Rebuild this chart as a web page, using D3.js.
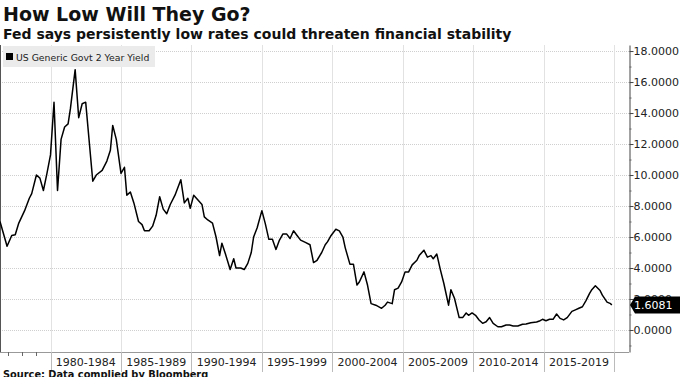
<!DOCTYPE html>
<html>
<head>
<meta charset="utf-8">
<script src="https://cdn.jsdelivr.net/npm/d3@7"></script>
<style>
  html, body { margin: 0; padding: 0; background: #fff; }
  svg { display: block; font-family: "DejaVu Sans", Verdana, sans-serif; }
</style>
</head>
<body>
<svg id="chart" width="680" height="377"></svg>
<script>
// ---------------- DATA ----------------
const title = "How Low Will They Go?";
const subtitle = "Fed says persistently low rates could threaten financial stability";
const source = "Source: Data complied by Bloomberg";
const seriesName = "US Generic Govt 2 Year Yield";

const dates = [
  "1976-06","1976-12","1977-04","1977-07","1977-10","1978-03","1978-07","1978-09",
  "1979-01","1979-04","1979-07","1979-10","1980-01","1980-04","1980-07","1980-10",
  "1981-01","1981-04","1981-06","1981-10","1982-01","1982-04","1982-07","1983-01",
  "1983-04","1983-09","1984-01","1984-04","1984-06","1984-09","1985-01","1985-04",
  "1985-06","1985-09","1985-12","1986-04","1986-07","1986-09","1987-01","1987-04",
  "1987-07","1987-10","1988-01","1988-04","1988-07","1988-11","1989-04","1989-07",
  "1989-10","1989-12","1990-03","1990-07","1990-10","1990-12","1991-03","1991-07",
  "1991-10","1992-01","1992-03","1992-06","1992-10","1993-01","1993-03","1993-07",
  "1993-10","1994-01","1994-04","1994-06","1994-09","1995-01","1995-04","1995-07",
  "1995-10","1996-01","1996-04","1996-07","1996-10","1997-01","1997-04","1997-07",
  "1997-10","1998-02","1998-06","1998-09","1998-12","1999-04","1999-07","1999-09",
  "1999-12","2000-04","2000-07","2000-10","2000-12","2001-04","2001-07","2001-10",
  "2001-12","2002-04","2002-07","2002-10","2003-02","2003-07","2003-10","2003-12",
  "2004-04","2004-06","2004-09","2004-12","2005-03","2005-06","2005-09","2006-01",
  "2006-03","2006-07","2006-10","2007-01","2007-03","2007-06","2007-09","2007-12",
  "2008-04","2008-06","2008-09","2009-01","2009-04","2009-07","2009-09","2009-12",
  "2010-03","2010-06","2010-09","2010-12","2011-03","2011-06","2011-10","2012-01",
  "2012-05","2012-08","2012-11","2013-03","2013-07","2013-10","2014-02","2014-07",
  "2014-10","2014-12","2015-03","2015-06","2015-09","2015-12","2016-03","2016-06",
  "2016-09","2017-01","2017-04","2017-07","2017-10","2018-01","2018-04","2018-06",
  "2018-09","2019-01","2019-03","2019-07","2019-10","2019-11"
];
const values = [
  7.0, 5.4, 6.1, 6.15, 6.9, 7.7, 8.5, 8.8,
  10.0, 9.8, 9.0, 10.1, 11.3, 14.7, 9.0, 12.3,
  13.1, 13.3, 14.3, 16.8, 13.7, 14.6, 14.7, 9.6,
  10.0, 10.3, 10.9, 11.6, 13.2, 12.3, 10.1, 10.5,
  8.7, 8.9, 8.2, 7.0, 6.8, 6.4, 6.4, 6.7,
  7.4, 8.6, 7.8, 7.5, 8.1, 8.7, 9.7, 8.2,
  8.5, 7.85, 8.7, 8.35, 8.1, 7.3, 7.1, 6.9,
  6.0, 4.8, 5.6, 4.9, 3.9, 4.6, 4.0, 4.0,
  3.9, 4.3, 5.0, 6.0, 6.6, 7.7, 6.85, 5.85,
  5.85, 5.2, 5.8, 6.2, 6.2, 5.9, 6.4, 6.1,
  5.8, 5.65, 5.5, 4.35, 4.5, 5.0, 5.5, 5.7,
  6.1, 6.5, 6.4, 6.0, 5.3, 4.25, 4.25, 2.9,
  3.1, 3.75, 2.9, 1.7, 1.6, 1.4, 1.6, 1.8,
  1.7, 2.6, 2.7, 3.1, 3.75, 3.75, 4.2, 4.5,
  4.8, 5.15, 4.7, 4.8, 4.6, 4.9, 3.9, 3.0,
  1.6, 2.6, 2.05, 0.8, 0.8, 1.1, 0.95, 1.1,
  0.95, 0.65, 0.43, 0.53, 0.8, 0.43, 0.21, 0.21,
  0.32, 0.32, 0.26, 0.26, 0.37, 0.39, 0.47, 0.52,
  0.6, 0.69, 0.6, 0.69, 0.69, 1.03, 0.75, 0.65,
  0.8, 1.2, 1.3, 1.4, 1.5, 1.9, 2.35, 2.6,
  2.85, 2.55, 2.25, 1.8, 1.7, 1.6081
];
const lastValue = 1.6081;
const yTicks = [0, 2, 4, 6, 8, 10, 12, 14, 16, 18];
const yMinorTicks = [-1, 1, 3, 5, 7, 9, 11, 13, 15, 17];
const periodStarts = [1980, 1985, 1990, 1995, 2000, 2005, 2010, 2015, 2020];
const periodLabels = ["1980-1984","1985-1989","1990-1994","1995-1999","2000-2004","2005-2009","2010-2014","2015-2019"];
const minorYears = [1977, 1978, 1979];

// ---------------- CHART ----------------
const svg = d3.select("#chart");
const parse = d3.timeParse("%Y-%m");
const data = dates.map((d, i) => ({ date: parse(d), value: values[i] }));

const plotLeft = 0, plotRight = 629, plotTop = 45, plotBottom = 352;
const x = d3.scaleTime()
  .domain([new Date(1976, 5, 1), new Date(2021, 0, 20)])
  .range([plotLeft, plotRight]);
const y = d3.scaleLinear().domain([-1.42, 18.39]).range([plotBottom, plotTop]);
const yr = v => new Date(v, 0, 1);

// titles
svg.append("text").attr("x", 3).attr("y", 21)
  .attr("font-size", 19).attr("font-weight", "bold").attr("fill", "#111").text(title);
svg.append("text").attr("x", 3).attr("y", 39)
  .attr("font-size", 14).attr("font-weight", "bold").attr("fill", "#111").text(subtitle);

// horizontal grid (dotted)
svg.append("g").selectAll("line").data(yTicks).join("line")
  .attr("x1", plotLeft).attr("x2", plotRight)
  .attr("y1", d => Math.round(y(d)) + 0.5).attr("y2", d => Math.round(y(d)) + 0.5)
  .attr("stroke", "#cfcfcf").attr("stroke-dasharray", "1,1");

// vertical grid
svg.append("g").selectAll("line").data(periodStarts).join("line")
  .attr("x1", d => Math.round(x(yr(d))) + 0.5).attr("x2", d => Math.round(x(yr(d))) + 0.5)
  .attr("y1", plotTop).attr("y2", plotBottom)
  .attr("stroke", "#e2e2e2");

// left border
svg.append("line").attr("x1", 0.5).attr("x2", 0.5).attr("y1", plotTop).attr("y2", plotBottom)
  .attr("stroke", "#555");

// bottom axis line
svg.append("line").attr("x1", plotLeft).attr("x2", plotRight)
  .attr("y1", plotBottom + 0.5).attr("y2", plotBottom + 0.5).attr("stroke", "#999");

// separators under bottom axis
svg.append("g").selectAll("line").data(periodStarts).join("line")
  .attr("x1", d => Math.round(x(yr(d))) + 0.5).attr("x2", d => Math.round(x(yr(d))) + 0.5)
  .attr("y1", plotBottom).attr("y2", 372)
  .attr("stroke", "#bbb");

// minor year ticks before first label
svg.append("g").selectAll("line").data(minorYears).join("line")
  .attr("x1", d => Math.round(x(yr(d))) + 0.5).attr("x2", d => Math.round(x(yr(d))) + 0.5)
  .attr("y1", plotBottom).attr("y2", plotBottom + 4)
  .attr("stroke", "#666");

// period labels
svg.append("g").selectAll("text").data(periodLabels).join("text")
  .attr("x", (d, i) => (x(yr(periodStarts[i])) + x(yr(periodStarts[i + 1]))) / 2)
  .attr("y", 366).attr("text-anchor", "middle")
  .attr("font-size", 11).attr("fill", "#222").text(d => d);

// right axis
const gy = svg.append("g").attr("transform", `translate(${plotRight + 0.5},0)`)
  .call(d3.axisRight(y).tickValues(yTicks).tickFormat(d3.format(".4f")).tickSize(4).tickSizeOuter(0));
gy.select(".domain").attr("stroke", "#444");
gy.selectAll(".tick line").attr("stroke", "#444");
gy.selectAll(".tick text").attr("font-size", 11).attr("fill", "#222")
  .attr("font-family", "DejaVu Sans, Verdana, sans-serif").attr("x", 4);
const gym = svg.append("g").attr("transform", `translate(${plotRight + 0.5},0)`)
  .call(d3.axisRight(y).tickValues(yMinorTicks).tickFormat("").tickSize(2).tickSizeOuter(0));
gym.select(".domain").remove();
gym.selectAll(".tick line").attr("stroke", "#666");

// series line
const line = d3.line().x(d => x(d.date)).y(d => y(d.value));
svg.append("path").datum(data)
  .attr("d", line).attr("fill", "none").attr("stroke", "#000")
  .attr("stroke-width", 1.5).attr("stroke-linejoin", "round");

// legend
svg.append("rect").attr("x", 3).attr("y", 46).attr("width", 152).attr("height", 21)
  .attr("fill", "#ebebeb");
svg.append("rect").attr("x", 6).attr("y", 53).attr("width", 7).attr("height", 7).attr("fill", "#000");
svg.append("text").attr("x", 16).attr("y", 60.5)
  .attr("font-size", 9.3).attr("fill", "#222").text(seriesName);

// last value tag
const ly = y(lastValue);
svg.append("path")
  .attr("d", `M${plotRight + 1},${ly} L${plotRight + 6},${ly - 8.5} L680,${ly - 8.5} L680,${ly + 8.5} L${plotRight + 6},${ly + 8.5} Z`)
  .attr("fill", "#000");
svg.append("text").attr("x", 634).attr("y", ly + 4)
  .attr("font-size", 11).attr("fill", "#fff").text(lastValue.toFixed(4));

// source
svg.append("text").attr("x", 3).attr("y", 378)
  .attr("font-size", 9.8).attr("font-weight", "bold").attr("fill", "#111").text(source);
</script>
</body>
</html>
